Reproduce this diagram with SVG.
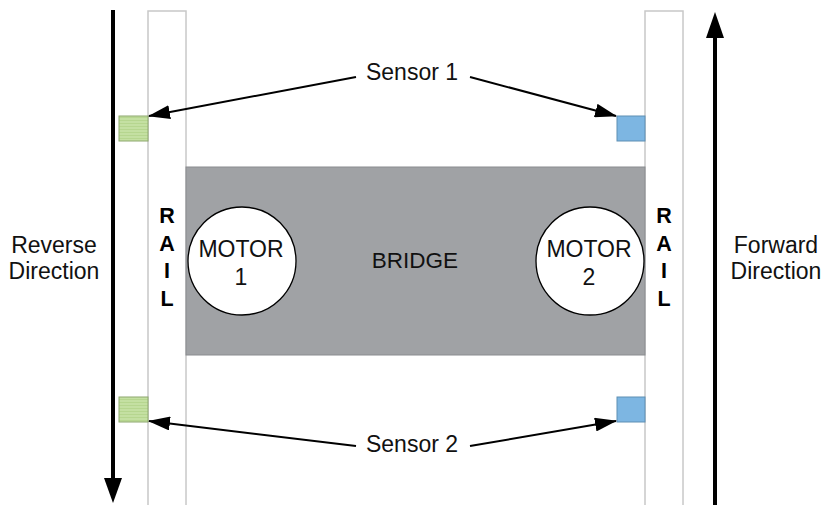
<svg xmlns="http://www.w3.org/2000/svg" width="823" height="505" viewBox="0 0 823 505">
<style>
.rail{fill:#fff;stroke:#c8c8c8;stroke-width:1.5}
.t{font-family:"Liberation Sans",Arial,sans-serif;font-size:23px;fill:#111;text-anchor:middle}
.b{font-weight:bold;font-size:21.5px;fill:#000}
.motor{fill:#fff;stroke:#000;stroke-width:1.3}
.green{stroke:#8ea86e;stroke-width:1}
.blue{fill:#7db6e2;stroke:#5f8fb4;stroke-width:1}
.conn{stroke:#000;stroke-width:2;fill:none}
.dir{stroke:#000;stroke-width:4;fill:none}
</style>
<defs>
<marker id="ah" viewBox="0 0 22 14" refX="21" refY="7" markerWidth="11" markerHeight="7" orient="auto" markerUnits="strokeWidth">
<path d="M0,0 L22,7 L0,14 z" fill="#000"/>
</marker>
<pattern id="stripes" width="4" height="3" patternUnits="userSpaceOnUse">
<rect width="4" height="3" fill="#c4e0a2"/>
<rect width="4" height="1" fill="#b6d68f"/>
</pattern>
</defs>
<rect width="823" height="505" fill="#fff"/>
<g id="rail-left">
<rect class="rail" x="148" y="11" width="38" height="500"/>
<text class="t b" x="167" y="223">R</text>
<text class="t b" x="167" y="251">A</text>
<text class="t b" x="167" y="278">I</text>
<text class="t b" x="167" y="306">L</text>
</g>
<g id="rail-right">
<rect class="rail" x="645" y="11" width="38" height="500"/>
<text class="t b" x="664" y="223">R</text>
<text class="t b" x="664" y="251">A</text>
<text class="t b" x="664" y="278">I</text>
<text class="t b" x="664" y="306">L</text>
</g>
<g id="bridge">
<rect x="186" y="167" width="459" height="188" fill="#a0a2a5" stroke="#8a8c8f" stroke-width="1"/>
<text class="t" x="415" y="268" style="font-size:22.5px">BRIDGE</text>
</g>
<g id="motor1">
<circle class="motor" cx="242" cy="261" r="54"/>
<text class="t" x="241" y="257">MOTOR</text>
<text class="t" x="241" y="285">1</text>
</g>
<g id="motor2">
<circle class="motor" cx="590" cy="261" r="54"/>
<text class="t" x="589" y="257">MOTOR</text>
<text class="t" x="589" y="285">2</text>
</g>
<g id="sensor1-left"><rect class="green" x="119" y="116" width="29" height="25" fill="url(#stripes)"/></g>
<g id="sensor1-right"><rect class="blue" x="617" y="116" width="28" height="25"/></g>
<g id="sensor2-left"><rect class="green" x="119" y="397" width="29" height="25" fill="url(#stripes)"/></g>
<g id="sensor2-right"><rect class="blue" x="617" y="397" width="28" height="25"/></g>
<g id="label-sensor1"><text class="t" x="412" y="80">Sensor 1</text></g>
<g id="label-sensor2"><text class="t" x="412" y="452">Sensor 2</text></g>
<g id="label-reverse">
<text class="t" x="54" y="253">Reverse</text>
<text class="t" x="54" y="279">Direction</text>
</g>
<g id="label-forward">
<text class="t" x="776" y="253">Forward</text>
<text class="t" x="776" y="279">Direction</text>
</g>
<g id="connectors">
<line class="conn" x1="356" y1="77" x2="149" y2="116" marker-end="url(#ah)"/>
<line class="conn" x1="470" y1="77" x2="616" y2="116" marker-end="url(#ah)"/>
<line class="conn" x1="356" y1="446" x2="149" y2="421" marker-end="url(#ah)"/>
<line class="conn" x1="470" y1="446" x2="616" y2="421" marker-end="url(#ah)"/>
<line class="dir" x1="113" y1="10" x2="113" y2="480"/>
<polygon points="104,478 122,478 113,503" fill="#000"/>
<line class="dir" x1="715" y1="36" x2="715" y2="505"/>
<polygon points="706,38 724,38 715,12" fill="#000"/>
</g>
</svg>
